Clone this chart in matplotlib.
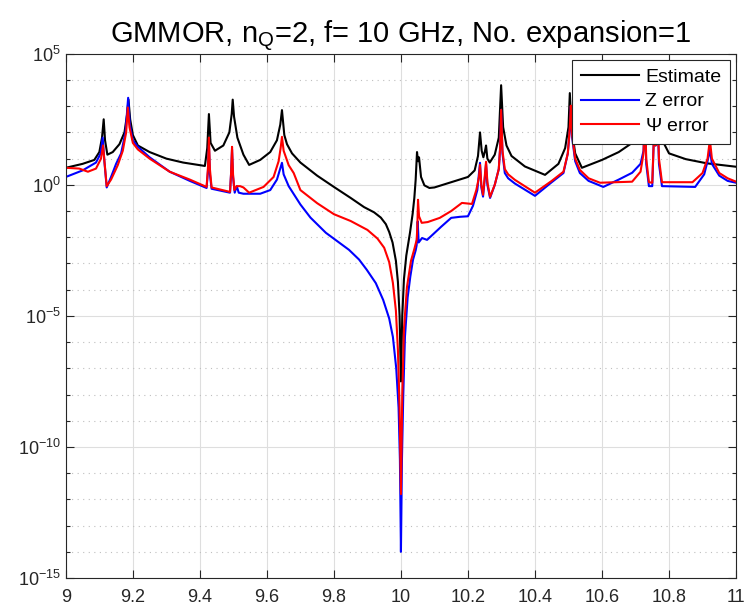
import numpy as np
import matplotlib
matplotlib.use("Agg")
import matplotlib.pyplot as plt

plt.rcParams['font.family'] = ['Liberation Sans', 'DejaVu Sans']
plt.rcParams['mathtext.fontset'] = 'custom'
plt.rcParams['mathtext.rm'] = 'Liberation Sans'
plt.rcParams['mathtext.it'] = 'Liberation Sans'
plt.rcParams['mathtext.default'] = 'regular'

# frequency (GHz) and log10 of each curve
f_est = [9.000, 9.050, 9.085, 9.100, 9.108, 9.113, 9.117, 9.124, 9.140, 9.160,
         9.175, 9.183, 9.187, 9.192, 9.200, 9.215, 9.250, 9.300, 9.350, 9.415,
         9.422, 9.427, 9.432, 9.445, 9.470, 9.488, 9.495, 9.498, 9.502, 9.512,
         9.530, 9.547, 9.580, 9.610, 9.630, 9.640, 9.645, 9.652, 9.660, 9.675,
         9.700, 9.750, 9.800, 9.850, 9.890, 9.920, 9.940, 9.955, 9.965, 9.975,
         9.985, 9.991, 9.996, 10.000, 10.004, 10.009, 10.016, 10.027, 10.035, 10.040,
         10.044, 10.048, 10.051, 10.054, 10.060, 10.070, 10.085,
         10.100, 10.150, 10.200, 10.220, 10.230, 10.236, 10.241, 10.246, 10.251, 10.254,
         10.258, 10.265, 10.280, 10.292, 10.299, 10.305, 10.315, 10.330, 10.370, 10.430,
         10.470, 10.490, 10.500, 10.504, 10.509, 10.520, 10.540, 10.600, 10.650, 10.690,
         10.710, 10.722, 10.728, 10.734, 10.745, 10.752, 10.756, 10.760, 10.765, 10.770,
         10.780, 10.800, 10.850, 10.913, 10.960, 11.000]
est_log = [0.65, 0.80, 0.95, 1.25, 1.80, 2.50, 1.70, 1.15, 1.25, 1.55,
           2.00, 2.70, 3.25, 2.50, 1.90, 1.50, 1.25, 1.00, 0.85, 0.72,
           1.40, 2.70, 1.60, 1.30, 1.50, 2.00, 2.70, 3.25, 2.60, 1.80,
           1.15, 0.76, 0.95, 1.25, 1.70, 2.30, 2.85, 1.90, 1.55, 1.20,
           0.85, 0.35, -0.08, -0.50, -0.85, -1.05, -1.25, -1.50, -1.80, -2.20,
           -2.90, -3.70, -5.0, -7.5, -5.0, -3.6, -2.7, -1.83, -1.10, -0.50,
           0.20, 1.25, 0.90, 1.05, 0.30, -0.02, -0.12,
           -0.10, 0.10, 0.30, 0.55, 1.10, 2.00, 1.30, 1.05, 1.30, 1.50,
           1.00, 0.85, 1.15, 1.80, 3.80, 2.20, 1.50, 1.10, 0.70, 0.38,
           0.80, 1.40, 2.20, 3.50, 2.20, 1.20, 0.65, 0.95, 1.25, 1.60,
           2.10, 2.80, 3.80, 2.80, 2.40, 3.00, 3.80, 3.20, 3.80, 2.50,
           1.70, 1.20, 0.98, 0.82, 0.75, 0.69]

f_z = [9.000, 9.050, 9.090, 9.104, 9.110, 9.115, 9.122, 9.135, 9.150, 9.165,
       9.178, 9.186, 9.191, 9.200, 9.215, 9.250, 9.310, 9.370, 9.420, 9.424,
       9.427, 9.430, 9.435, 9.490, 9.493, 9.496, 9.499, 9.504, 9.510, 9.516,
       9.530, 9.580, 9.610, 9.630, 9.645, 9.650, 9.665, 9.700, 9.730, 9.776,
       9.810, 9.845, 9.875, 9.898, 9.925, 9.947, 9.965, 9.976, 9.986, 9.993,
       9.997, 10.000, 10.003, 10.007, 10.012, 10.020, 10.028, 10.036, 10.044, 10.047,
       10.050, 10.053, 10.063, 10.078, 10.120, 10.150, 10.176, 10.200, 10.215, 10.228,
       10.236, 10.240, 10.245, 10.250, 10.254, 10.258, 10.266, 10.280, 10.292, 10.296,
       10.299, 10.303, 10.310, 10.320, 10.340, 10.400, 10.450, 10.485, 10.498, 10.504,
       10.507, 10.511, 10.520, 10.534, 10.560, 10.604, 10.650, 10.690, 10.715, 10.724,
       10.728, 10.732, 10.740, 10.750, 10.754, 10.757, 10.760, 10.762, 10.765, 10.770,
       10.779, 10.878, 10.905, 10.915, 10.922, 10.928, 10.950, 10.975, 11.000]
z_log = [0.30, 0.55, 0.85, 1.20, 1.80, 0.90, -0.10, 0.30, 0.80, 1.20,
         2.00, 3.32, 2.30, 1.70, 1.45, 1.05, 0.50, 0.15, -0.12, 0.50,
         1.50, 0.40, -0.15, -0.30, 0.40, 1.35, 0.30, -0.30, -0.05, -0.30,
         -0.34, -0.34, -0.20, 0.20, 0.84, 0.40, -0.05, -0.75, -1.25, -1.83,
         -2.15, -2.48, -2.85, -3.24, -3.75, -4.39, -5.10, -5.80, -7.00, -8.50,
         -10.5, -14.0, -10.5, -8.0, -5.8, -4.3, -3.5, -2.86, -2.50, -2.30,
         -1.40, -2.20, -2.03, -2.10, -1.60, -1.26, -1.22, -1.20, -0.80, -0.20,
         0.84, -0.10, -0.45, 0.20, 0.80, 0.00, -0.50, 0.00, 0.60, 1.40,
         2.86, 1.20, 0.45, 0.25, 0.05, -0.42, 0.10, 0.45, 1.20, 2.10,
         3.00, 1.80, 0.90, 0.45, 0.15, -0.08, 0.20, 0.46, 0.80, 1.30,
         2.80, 0.80, -0.05, -0.05, 1.50, 3.00, 1.50, 2.00, 3.00, 0.80,
         -0.05, -0.08, 0.40, 0.90, 1.34, 0.80, 0.35, 0.15, 0.08]

f_psi = [9.000, 9.040, 9.066, 9.090, 9.105, 9.111, 9.116, 9.122, 9.135, 9.155,
         9.170, 9.180, 9.185, 9.190, 9.200, 9.215, 9.250, 9.310, 9.370, 9.420,
         9.424, 9.427, 9.430, 9.435, 9.490, 9.493, 9.496, 9.499, 9.503, 9.510,
         9.520, 9.530, 9.547, 9.590, 9.620, 9.635, 9.641, 9.645, 9.650, 9.665,
         9.680, 9.700, 9.750, 9.800, 9.850, 9.900, 9.930, 9.950, 9.965, 9.976,
         9.985, 9.991, 9.996, 10.000, 10.004, 10.009, 10.018, 10.030, 10.040, 10.047,
         10.049, 10.051, 10.054, 10.062, 10.080, 10.116,
         10.150, 10.182, 10.212, 10.225, 10.233, 10.236, 10.240, 10.245, 10.250, 10.254,
         10.258, 10.266, 10.280, 10.292, 10.296, 10.299, 10.303, 10.310, 10.320, 10.340,
         10.400, 10.450, 10.485, 10.498, 10.504, 10.507, 10.511, 10.520, 10.534, 10.560,
         10.594, 10.690, 10.715, 10.724, 10.728, 10.732, 10.740, 10.750, 10.754, 10.757,
         10.760, 10.762, 10.765, 10.770, 10.779, 10.870, 10.900, 10.915, 10.922, 10.928,
         10.950, 10.975, 11.000]
psi_log = [0.65, 0.62, 0.50, 0.62, 1.00, 1.50, 0.80, -0.05, 0.20, 0.75,
           1.30, 2.00, 2.95, 2.20, 1.60, 1.35, 1.00, 0.50, 0.20, -0.08,
           0.60, 1.80, 0.60, -0.10, -0.27, 0.40, 1.45, 0.40, -0.20, -0.05,
           -0.05, -0.10, -0.30, -0.08, 0.30, 0.90, 1.40, 1.83, 1.30, 0.75,
           0.45, -0.20, -0.70, -1.12, -1.38, -1.72, -2.05, -2.40, -2.95, -3.74,
           -4.80, -6.30, -8.50, -11.8, -8.0, -5.5, -3.9, -2.9, -2.45, -2.10,
           -1.60, -0.57, -1.20, -1.45, -1.42, -1.26,
           -1.00, -0.69, -0.73, -0.20, 0.30, 0.76, 0.00, -0.38, 0.30, 0.88,
           0.10, -0.46, 0.00, 0.60, 1.40, 2.86, 1.30, 0.60, 0.40, 0.19,
           -0.30, 0.15, 0.50, 1.20, 2.20, 3.02, 1.90, 1.00, 0.57, 0.25,
           0.08, 0.12, 0.50, 1.20, 3.00, 1.00, 0.10, 0.08, 1.50, 3.20,
           1.50, 2.00, 3.20, 1.00, 0.10, 0.10, 0.45, 1.00, 1.72, 1.00,
           0.45, 0.25, 0.12]

xticks = [9, 9.2, 9.4, 9.6, 9.8, 10, 10.2, 10.4, 10.6, 10.8, 11]
xtick_labels = ['9', '9.2', '9.4', '9.6', '9.8', '10', '10.2', '10.4', '10.6', '10.8', '11']
ydecades = [-15, -10, -5, 0, 5]

fig = plt.figure(figsize=(7.48, 6.11), dpi=100)
ax = fig.add_axes([0.088, 0.054, 0.896, 0.858])

ax.plot(f_est, 10.0 ** np.array(est_log), color='k', lw=1.5, label='Estimate')
ax.plot(f_z, 10.0 ** np.array(z_log), color='b', lw=1.5, label='Z error')
ax.plot(f_psi, 10.0 ** np.array(psi_log), color='r', lw=1.5, label=r'$\Psi$ error')

ax.set_yscale('log')
ax.set_xlim(9, 11)
ax.set_ylim(1e-15, 1e5)

ax.set_xticks(xticks)
ax.set_xticklabels(xtick_labels)
ax.set_yticks([10.0 ** d for d in ydecades])
ax.set_yticklabels([r'$10^{%d}$' % d for d in ydecades])
ax.set_yticks([10.0 ** d for d in range(-15, 6) if d not in ydecades], minor=True)
ax.yaxis.set_minor_formatter(matplotlib.ticker.NullFormatter())

axcol = '#262626'
ax.tick_params(which='both', direction='in', top=True, right=True, colors=axcol,
               labelsize=13, width=0.8)
ax.tick_params(which='major', length=6)
ax.tick_params(which='minor', length=3)
ax.tick_params(axis='x', pad=8)
for s in ax.spines.values():
    s.set_color(axcol)
    s.set_linewidth(0.8)

ax.grid(True, which='major', color='#dedede', lw=0.8, ls='-')
ax.grid(True, which='minor', axis='y', color='#bfbfbf', lw=0.8, ls=(0, (1, 4)))
ax.grid(False, which='minor', axis='x')
ax.set_axisbelow(True)

ax.set_title(r'GMMOR, n$_Q$=2, f= 10 GHz, No. expansion=1', fontsize=21, pad=6)

leg = ax.legend(loc='upper right', fontsize=14, handlelength=3.0, borderaxespad=0.3,
                fancybox=False, framealpha=1, edgecolor=axcol, labelspacing=0.35,
                borderpad=0.45, handletextpad=0.3)
leg.get_frame().set_linewidth(0.8)

fig.savefig('out.png', dpi=100)
